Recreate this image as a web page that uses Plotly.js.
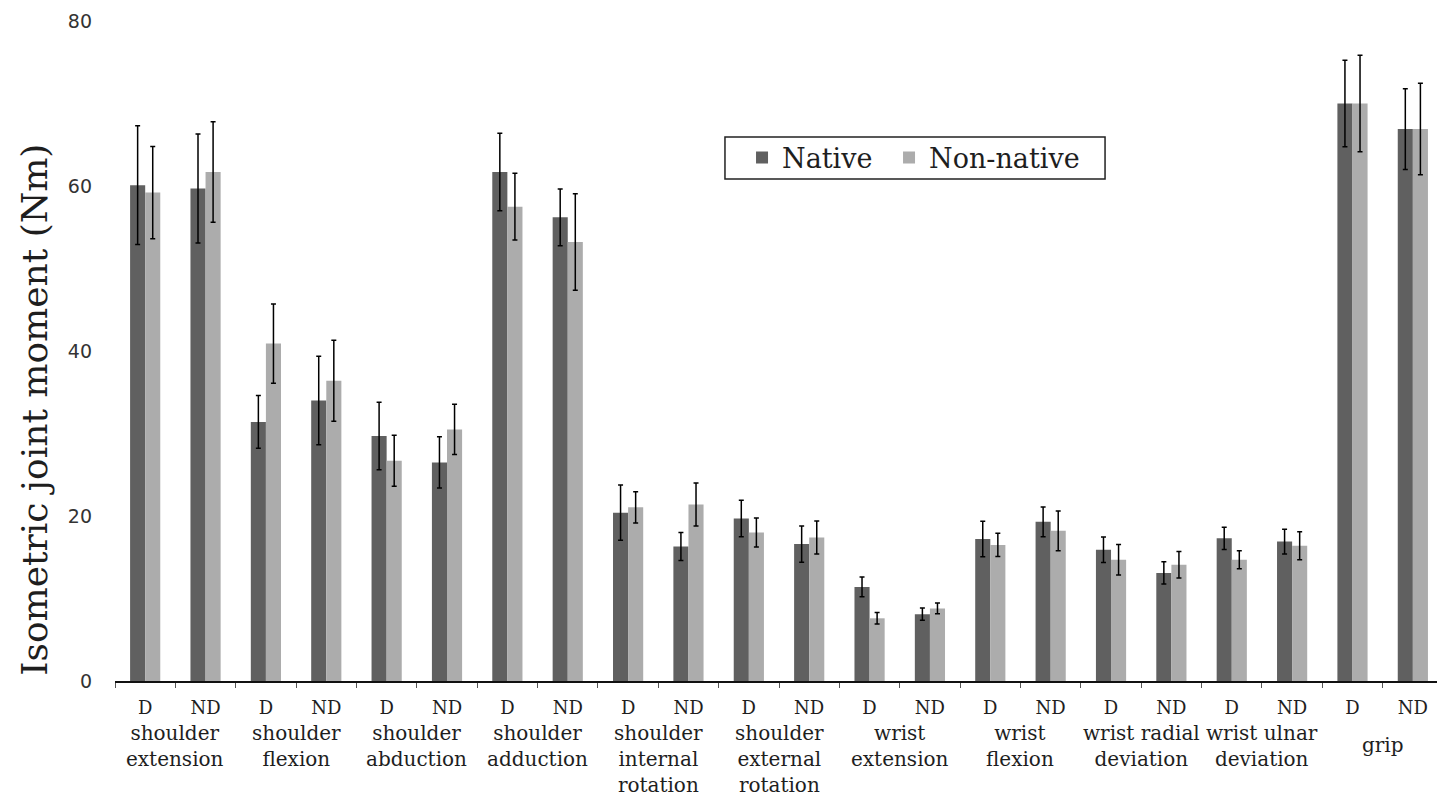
<!DOCTYPE html>
<html>
<head>
<meta charset="utf-8">
<script src="https://cdn.plot.ly/plotly-3.0.1.min.js"></script>
<style>
  html, body { margin: 0; padding: 0; background: #ffffff; }
  #chart { width: 1437px; height: 802px; }
</style>
</head>
<body>
<div id="chart"></div>
<script>
// Movements tested, each measured on the dominant (D) and non-dominant (ND) side
const motions = [
  'shoulder<br>extension', 'shoulder<br>flexion', 'shoulder<br>abduction',
  'shoulder<br>adduction', 'shoulder<br>internal<br>rotation',
  'shoulder<br>external<br>rotation', 'wrist<br>extension', 'wrist<br>flexion',
  'wrist radial<br>deviation', 'wrist ulnar<br>deviation', 'grip'
];
const sides = ['D', 'ND'];

// Mean isometric joint moment (Nm) and SD, in order D, ND for each movement
const nativeMean = [60.1, 59.7, 31.4, 34.0, 29.7, 26.5, 61.7, 56.2, 20.4, 16.3, 19.7, 16.6,
                    11.4, 8.1, 17.2, 19.3, 15.9, 13.1, 17.3, 16.9, 70.0, 66.9];
const nativeSD = [7.2, 6.6, 3.2, 5.35, 4.1, 3.1, 4.7, 3.45, 3.35, 1.7, 2.2, 2.2,
                  1.2, 0.75, 2.15, 1.8, 1.55, 1.35, 1.35, 1.5, 5.25, 4.9];
const nonNativeMean = [59.2, 61.7, 40.9, 36.4, 26.7, 30.5, 57.5, 53.2, 21.05, 21.4, 18.0, 17.4,
                       7.6, 8.8, 16.5, 18.2, 14.7, 14.1, 14.7, 16.4, 70.0, 66.9];
const nonNativeSD = [5.6, 6.1, 4.8, 4.9, 3.1, 3.05, 4.05, 5.85, 1.9, 2.6, 1.75, 2.0,
                     0.7, 0.65, 1.4, 2.4, 1.85, 1.6, 1.1, 1.7, 5.85, 5.55];

const yTicks = [0, 20, 40, 60, 80];

// One x slot per movement/side pair
const xIdx = [];
const xText = [];
motions.forEach((m, i) => sides.forEach((s, j) => { xIdx.push(i * 2 + j); xText.push(s); }));

const serif = 'DejaVu Serif';
const ink = '#1e1e1e';

function barTrace(name, mean, sd, color, legendId) {
  return {
    type: 'bar', name: name, x: xIdx, y: mean, legend: legendId,
    marker: { color: color, line: { width: 0 } },
    error_y: { type: 'data', array: sd, visible: true, color: '#000000', thickness: 1.5, width: 2.5 },
    hoverinfo: 'skip'
  };
}

const data = [
  barTrace('Native', nativeMean, nativeSD, 'rgb(96,96,96)', 'legend'),
  barTrace('Non-native', nonNativeMean, nonNativeSD, 'rgb(172,172,172)', 'legend2')
];

// Movement names centred under each D/ND pair
const annotations = motions.map((m, i) => {
  const oneLine = m.indexOf('<br>') < 0;
  return {
    xref: 'x', yref: 'paper', x: i * 2 + 0.5, y: oneLine ? -0.075 : -0.058,
    xanchor: 'center', yanchor: 'top', showarrow: false, align: 'center',
    text: m, font: { family: serif, size: 20, color: ink }
  };
});

annotations.push({
  xref: 'paper', yref: 'paper', x: -0.0605, y: 0.411,
  xanchor: 'center', yanchor: 'middle', showarrow: false, textangle: -90,
  text: 'Isometric joint moment (Nm)', font: { family: serif, size: 36, color: ink }
});

const legendStyle = {
  orientation: 'h', y: 0.7924, xanchor: 'left', yanchor: 'middle',
  bgcolor: 'rgba(0,0,0,0)', borderwidth: 0,
  font: { family: serif, size: 27, color: ink },
  itemwidth: 30
};

const layout = {
  width: 1437, height: 802,
  margin: { l: 115, r: 0, t: 21, b: 121, pad: 0 },
  paper_bgcolor: '#ffffff', plot_bgcolor: '#ffffff',
  barmode: 'group', bargap: 0.5, bargroupgap: 0,
  showlegend: true,
  legend: Object.assign({ x: 0.4743 }, legendStyle),
  legend2: Object.assign({ x: 0.5855 }, legendStyle),
  // frame around the legend entries
  shapes: [{
    type: 'rect', xref: 'paper', yref: 'paper', layer: 'above',
    x0: 0.4614, x1: 0.7489, y0: 0.7606, y1: 0.8242,
    line: { color: '#222222', width: 1.5 }, fillcolor: 'rgba(0,0,0,0)'
  }],
  xaxis: {
    type: 'linear', range: [-0.5, 21.4], fixedrange: true,
    tickmode: 'array', tickvals: xIdx, ticktext: xText,
    ticks: '', ticklabelstandoff: 10,
    tickfont: { family: serif, size: 18, color: ink },
    minor: { tickmode: 'linear', tick0: -0.5, dtick: 1, ticks: 'outside', ticklen: 5, tickwidth: 1, tickcolor: '#555555', showgrid: false },
    showgrid: false, zeroline: false,
    showline: true, linecolor: '#111111', linewidth: 1.5
  },
  yaxis: {
    range: [0, 80], fixedrange: true,
    tickmode: 'array', tickvals: yTicks, ticktext: yTicks.map(String),
    ticks: '', ticklabelstandoff: 22,
    tickfont: { family: 'DejaVu Sans', size: 19, color: '#333333' },
    showgrid: false, zeroline: false, showline: false
  },
  annotations: annotations
};

Plotly.newPlot('chart', data, layout, { displayModeBar: false, staticPlot: true });
</script>
</body>
</html>
